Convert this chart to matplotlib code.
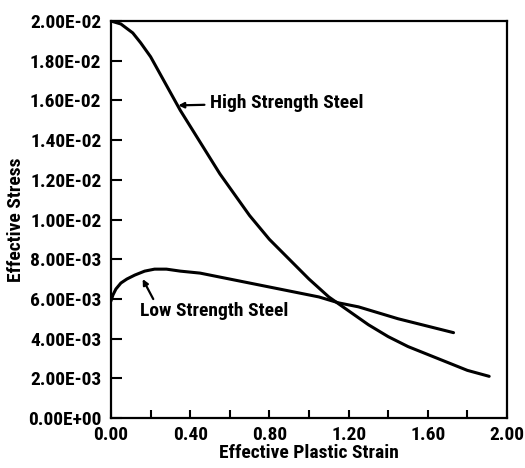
import matplotlib
matplotlib.use('Agg')
import matplotlib.pyplot as plt
from matplotlib import font_manager
from matplotlib.ticker import MultipleLocator, FormatStrFormatter

# values
high_x = [0.00, 0.05, 0.11, 0.15, 0.20, 0.25, 0.30, 0.35, 0.40, 0.45, 0.50, 0.55,
          0.60, 0.65, 0.70, 0.75, 0.80, 0.90, 1.00, 1.10, 1.20, 1.30, 1.40, 1.50,
          1.60, 1.70, 1.80, 1.91]
high_y = [0.0200, 0.01985, 0.0194, 0.0189, 0.0182, 0.0173, 0.0164, 0.0155, 0.0147,
          0.0139, 0.0131, 0.0123, 0.0116, 0.0109, 0.0102, 0.0096, 0.0090, 0.0080,
          0.0070, 0.0061, 0.0054, 0.0047, 0.0041, 0.0036, 0.0032, 0.0028, 0.0024,
          0.0021]

low_x = [0.00, 0.01, 0.025, 0.05, 0.08, 0.12, 0.17, 0.22, 0.28, 0.35, 0.45, 0.55,
         0.65, 0.75, 0.85, 0.95, 1.05, 1.15, 1.25, 1.35, 1.45, 1.55, 1.65, 1.73]
low_y = [0.0059, 0.0062, 0.0065, 0.0068, 0.0070, 0.0072, 0.0074, 0.0075, 0.0075,
         0.0074, 0.0073, 0.0071, 0.0069, 0.0067, 0.0065, 0.0063, 0.0061, 0.0058,
         0.0056, 0.0053, 0.0050, 0.00475, 0.0045, 0.0043]

names = {f.name for f in font_manager.fontManager.ttflist}
font = 'DejaVu Sans'
for cand in ['Liberation Sans Narrow', 'Roboto Condensed', 'Open Sans Condensed']:
    if cand in names:
        font = cand
        break
stretch = 'condensed'
fs = 14

fig = plt.figure(figsize=(5.25, 4.68), dpi=100)
ax = fig.add_axes([0.2114, 0.1068, 0.7543, 0.8483])

ax.plot(high_x, high_y, color='k', linewidth=2.2, solid_capstyle='round')
ax.plot(low_x, low_y, color='k', linewidth=2.2, solid_capstyle='round')

ax.set_xlim(0, 2.0)
ax.set_ylim(0, 0.02)
ax.xaxis.set_major_locator(MultipleLocator(0.4))
ax.xaxis.set_minor_locator(MultipleLocator(0.2))
ax.yaxis.set_major_locator(MultipleLocator(0.002))
ax.xaxis.set_major_formatter(FormatStrFormatter('%.2f'))
ax.yaxis.set_major_formatter(FormatStrFormatter('%.2E'))
ax.tick_params(axis='x', which='both', direction='in', length=6, width=1.5,
               top=False, pad=6)
ax.tick_params(axis='y', direction='in', length=8, width=1.5, right=False, pad=7)
for lab in ax.get_xticklabels() + ax.get_yticklabels():
    lab.set_fontfamily(font)
    lab.set_fontstretch(stretch)
    lab.set_fontweight('bold')
    lab.set_fontsize(fs)
for s in ax.spines.values():
    s.set_linewidth(1.6)

txt = dict(fontfamily=font, fontstretch=stretch, fontweight='bold', fontsize=fs)
ax.set_xlabel('Effective Plastic Strain', labelpad=0, **txt)
ax.set_ylabel('Effective Stress', labelpad=2, **txt)

ax.annotate('High Strength Steel', xy=(0.34, 0.01575), xytext=(0.50, 0.01587),
            va='center', **txt,
            arrowprops=dict(arrowstyle='-|>', color='k', lw=1.6,
                            mutation_scale=8, shrinkA=2, shrinkB=0))
ax.annotate('Low Strength Steel', xy=(0.16, 0.0070), xytext=(0.146, 0.0054),
            va='center', **txt,
            arrowprops=dict(arrowstyle='-|>', color='k', lw=1.6,
                            mutation_scale=8, shrinkA=0, shrinkB=0,
                            relpos=(0.1, 1.0)))

fig.savefig('out.png', dpi=100)
